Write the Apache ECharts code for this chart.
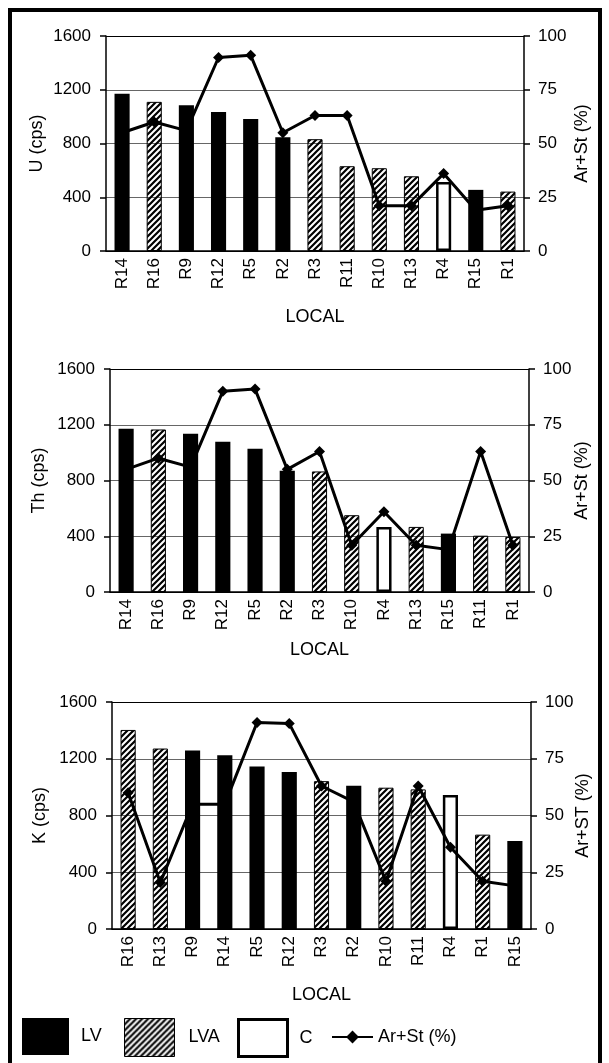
<!DOCTYPE html>
<html>
<head>
<meta charset="utf-8">
<script src="https://cdn.jsdelivr.net/npm/echarts@6/dist/echarts.min.js"></script>
<style>
  html, body { margin: 0; padding: 0; background: #fff; }
  #main { width: 609px; height: 1063px; }
</style>
</head>
<body>
<div id="main"></div>
<script>
// U chart
var cats1 = ['R14', 'R16', 'R9', 'R12', 'R5', 'R2', 'R3', 'R11', 'R10', 'R13', 'R4', 'R15', 'R1'];
var types1 = ['LV', 'LVA', 'LV', 'LV', 'LV', 'LV', 'LVA', 'LVA', 'LVA', 'LVA', 'C', 'LV', 'LVA'];
var uVals = [1170, 1110, 1085, 1035, 983, 846, 832, 631, 616, 556, 514, 455, 442];
var arSt1 = [55, 60, 56, 90, 91, 55, 63, 63, 21, 21, 36, 19, 21];

// Th chart
var cats2 = ['R14', 'R16', 'R9', 'R12', 'R5', 'R2', 'R3', 'R10', 'R4', 'R13', 'R15', 'R11', 'R1'];
var types2 = ['LV', 'LVA', 'LV', 'LV', 'LV', 'LV', 'LVA', 'LVA', 'C', 'LVA', 'LV', 'LVA', 'LVA'];
var thVals = [1171, 1166, 1135, 1078, 1027, 870, 865, 551, 467, 467, 419, 404, 395];
var arSt2 = [55, 60, 56, 90, 91, 55, 63, 21, 36, 21, 19, 63, 21];

// K chart
var cats3 = ['R16', 'R13', 'R9', 'R14', 'R5', 'R12', 'R3', 'R2', 'R10', 'R11', 'R4', 'R1', 'R15'];
var types3 = ['LVA', 'LVA', 'LV', 'LV', 'LV', 'LV', 'LVA', 'LV', 'LVA', 'LVA', 'C', 'LVA', 'LV'];
var kVals = [1403, 1272, 1258, 1225, 1146, 1107, 1042, 1010, 996, 984, 944, 665, 620];
var arSt3 = [60, 20.5, 55, 55, 91, 90.5, 63, 56, 21, 63, 36, 21, 19];

var leftTicks = [0, 1600, 400];   // min, max, step
var rightTicks = [0, 100, 25];

var FONT = 'Liberation Sans, Arial, sans-serif';

// diagonal hatch for the LVA bars
function hatch() {
  var c = document.createElement('canvas');
  c.width = c.height = 6;
  var g = c.getContext('2d');
  g.strokeStyle = '#000';
  g.lineWidth = 2.2;
  g.beginPath();
  g.moveTo(-1, 7); g.lineTo(7, -1);
  g.moveTo(-1, 1); g.lineTo(1, -1);
  g.moveTo(5, 7); g.lineTo(7, 5);
  g.stroke();
  return c;
}
var hatchFill = { image: hatch(), repeat: 'repeat' };

var charts = [
  { cats: cats1, types: types1, vals: uVals, ar: arSt1, yName: 'U (cps)', rName: 'Ar+St (%)',
    grid: { left: 106, top: 36, width: 418, height: 215 }, nameGapX: 57, nameGapL: 60, nameGapR: 49 },
  { cats: cats2, types: types2, vals: thVals, ar: arSt2, yName: 'Th (cps)', rName: 'Ar+St (%)',
    grid: { left: 110, top: 369, width: 419, height: 223 }, nameGapX: 49, nameGapL: 62, nameGapR: 44 },
  { cats: cats3, types: types3, vals: kVals, ar: arSt3, yName: 'K (cps)', rName: 'Ar+ST (%)',
    grid: { left: 112, top: 702, width: 419, height: 227 }, nameGapX: 57, nameGapL: 63, nameGapR: 43 }
];

var grids = [], xAxes = [], yAxes = [], series = [];

charts.forEach(function (c, i) {
  grids.push(c.grid);
  xAxes.push({
    type: 'category', gridIndex: i, data: c.cats,
    name: 'LOCAL', nameLocation: 'middle', nameGap: c.nameGapX, nameMoveOverlap: false,
    nameTextStyle: { fontFamily: FONT, fontSize: 18, color: '#000' },
    axisLine: { lineStyle: { color: '#000', width: 1.5 } },
    axisTick: { length: 6, lineStyle: { color: '#000', width: 1.5 } },
    axisLabel: { rotate: 90, margin: 7, fontFamily: FONT, fontSize: 17, color: '#000', interval: 0 }
  });
  yAxes.push({
    type: 'value', gridIndex: i, position: 'left',
    min: leftTicks[0], max: leftTicks[1], interval: leftTicks[2],
    name: c.yName, nameLocation: 'middle', nameRotate: 90, nameGap: c.nameGapL, nameMoveOverlap: false,
    nameTextStyle: { fontFamily: FONT, fontSize: 18, color: '#000' },
    axisLine: { show: true, lineStyle: { color: '#000', width: 1.5 } },
    axisTick: { show: true, length: 6, lineStyle: { color: '#000', width: 1.5 } },
    axisLabel: { margin: 15, fontFamily: FONT, fontSize: 17, color: '#000',
      formatter: function (v) { return String(v); } },
    splitLine: { show: true, lineStyle: { color: ['#000', '#666', '#666', '#666', '#000'], width: 1.2 } }
  });
  yAxes.push({
    type: 'value', gridIndex: i, position: 'right',
    min: rightTicks[0], max: rightTicks[1], interval: rightTicks[2],
    name: c.rName, nameLocation: 'middle', nameRotate: 90, nameGap: c.nameGapR, nameMoveOverlap: false,
    nameTextStyle: { fontFamily: FONT, fontSize: 18, color: '#000' },
    axisLine: { show: true, lineStyle: { color: '#000', width: 1.5 } },
    axisTick: { show: true, length: 6, lineStyle: { color: '#000', width: 1.5 } },
    axisLabel: { margin: 14, fontFamily: FONT, fontSize: 17, color: '#000',
      formatter: function (v) { return String(v); } },
    splitLine: { show: false }
  });

  function pick(t) {
    return c.vals.map(function (v, j) { return c.types[j] === t ? v : null; });
  }
  series.push({
    name: 'LV', type: 'bar', xAxisIndex: i, yAxisIndex: 2 * i, stack: 's' + i,
    barWidth: '47%', z: 4, data: pick('LV'),
    itemStyle: { color: '#000' }
  });
  series.push({
    name: 'LVA', type: 'bar', xAxisIndex: i, yAxisIndex: 2 * i, stack: 's' + i,
    barWidth: '47%', z: 2, data: pick('LVA'),
    itemStyle: { color: hatchFill, borderColor: '#000', borderWidth: 1 }
  });
  series.push({
    name: 'C', type: 'bar', xAxisIndex: i, yAxisIndex: 2 * i, stack: 's' + i,
    barWidth: '47%', z: 2, data: pick('C'),
    itemStyle: { color: '#fff', borderColor: '#000', borderWidth: 2.5 }
  });
  series.push({
    name: 'Ar+St (%)', type: 'line', xAxisIndex: i, yAxisIndex: 2 * i + 1, z: 3,
    data: c.ar, symbol: 'diamond', symbolSize: 11,
    lineStyle: { color: '#000', width: 3 },
    itemStyle: { color: '#000' }
  });
});

var legendText = { fontFamily: FONT, fontSize: 18, color: '#000' };
var legends = [
  { left: 22, top: 1018, itemWidth: 47, itemHeight: 37, icon: 'rect', data: ['LV'],
    textStyle: Object.assign({ padding: [0, 0, 0, 7] }, legendText) },
  { left: 124, top: 1018, itemWidth: 50, itemHeight: 38, icon: 'rect',
    data: [{ name: 'LVA', itemStyle: { borderWidth: 1, borderColor: '#000' } }],
    textStyle: Object.assign({ padding: [0, 0, 0, 9] }, legendText) },
  { left: 237, top: 1018, itemWidth: 49, itemHeight: 37, icon: 'rect',
    data: [{ name: 'C', itemStyle: { color: '#fff', borderWidth: 3, borderColor: '#000' } }],
    textStyle: Object.assign({ padding: [0, 0, 0, 7] }, legendText) },
  { left: 331, top: 1028, itemWidth: 41, itemHeight: 16, data: ['Ar+St (%)'],
    textStyle: Object.assign({ padding: [0, 0, 0, 0] }, legendText) }
];
legends.forEach(function (l) { l.selectedMode = false; l.padding = 0; });

var chart = echarts.init(document.getElementById('main'), null, { renderer: 'canvas' });
chart.setOption({
  backgroundColor: '#fff',
  animation: false,
  grid: grids,
  xAxis: xAxes,
  yAxis: yAxes,
  legend: legends,
  series: series,
  graphic: [{
    type: 'polyline', silent: true,
    shape: { points: [[10, 1063], [10, 10], [600, 10], [600, 1063]] },
    style: { stroke: '#000', lineWidth: 4, fill: null }
  }]
});
</script>
</body>
</html>
